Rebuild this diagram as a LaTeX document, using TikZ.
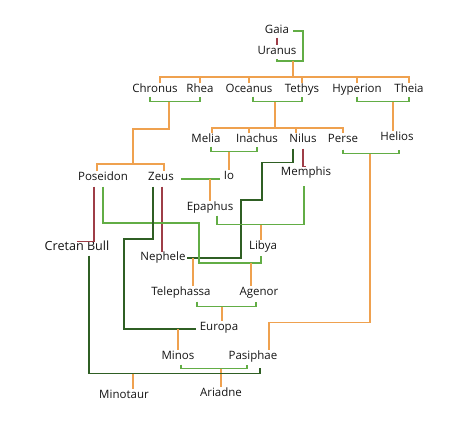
\documentclass[tikz,border=0pt]{standalone}
\usepackage{fontspec}
\setmainfont{Open Sans}
\usetikzlibrary{calc}

\definecolor{descorange}{HTML}{EFA14F}
\definecolor{wedgreen}{HTML}{62AD45}
\definecolor{affairgreen}{HTML}{2F5F24}
\definecolor{kinbrown}{HTML}{9E3D47}

\begin{document}
\begin{tikzpicture}[x=1pt, y=-1pt,
  person/.style={font=\fontsize{11.5}{13}\selectfont, text=black!92,
                 inner sep=1pt, text height=8.4pt, text depth=2.5pt},
  bigperson/.style={person, font=\fontsize{12.6}{14}\selectfont},
  desc/.style={draw=descorange, line width=1.1pt},
  wed/.style={draw=wedgreen, line width=1.1pt},
  affair/.style={draw=affairgreen, line width=1.1pt},
  kin/.style={draw=kinbrown, line width=1.1pt},
]
\useasboundingbox (0,0) rectangle (474,426);

% ============ PEOPLE ============
\node[person] (gaia) at (277,31) {Gaia};
\node[person] (uranus) at (277,52) {Uranus};

\node[person] (chronus) at (155,90) {Chronus};
\node[person] (rhea) at (200,90) {Rhea};
\node[person] (oceanus) at (249,90) {Oceanus};
\node[person] (tethys) at (302,90) {Tethys};
\node[person] (hyperion) at (357,90) {Hyperion};
\node[person] (theia) at (409,90) {Theia};

\node[person] (melia) at (206,140) {Melia};
\node[person] (inachus) at (257,140) {Inachus};
\node[person] (nilus) at (303,140) {Nilus};
\node[person] (perse) at (343,140) {Perse};
\node[person] (helios) at (397,138) {Helios};

\node[person] (poseidon) at (103,178) {Poseidon};
\node[person] (zeus) at (161,178) {Zeus};
\node[person] (io) at (229,177) {Io};
\node[person] (memphis) at (306,173) {Memphis};
\node[person] (epaphus) at (210,208) {Epaphus};

\node[bigperson] (cretan) at (77,248) {Cretan Bull};
\node[person] (nephele) at (163,258) {Nephele};
\node[person] (libya) at (263,247) {Libya};

\node[person] (telephassa) at (181,293) {Telephassa};
\node[person] (agenor) at (259,293) {Agenor};
\node[person] (europa) at (219,328) {Europa};
\node[person] (minos) at (178,357) {Minos};
\node[person] (pasiphae) at (253,357) {Pasiphae};
\node[person] (minotaur) at (124,396) {Minotaur};
\node[person] (ariadne) at (221,394) {Ariadne};

% ============ GAIA / URANUS ============
\draw[kin] (gaia) -- (uranus);
\draw[wed] ($(gaia.east)+(3,0)$) -| (303,61) -| (uranus.south);
\coordinate (gu) at (293,61);
\coordinate (row2) at (293,77);
\draw[desc] (gu) -- (row2);
\draw[desc] ($(chronus.north)+(5,0)$) |- (row2) -| (theia.north);
\foreach \n in {rhea,oceanus,tethys,hyperion}
  \draw[desc] (\n.north) -- (\n.north |- row2);

% ============ TITAN COUPLES ============
\draw[wed] ($(chronus.south)+(-5,0)$) -- ++(0,5) -| (rhea.south);
\draw[wed] ($(oceanus.south)+(4,0)$) -- ++(0,5) -| (tethys.south);
\draw[wed] (hyperion.south) -- ++(0,5) -| (theia.south);

% Chronus + Rhea -> Poseidon, Zeus
\coordinate (cr) at (169,101.5);
\coordinate (sib3) at (133,164);
\draw[desc] (cr) |- (133,129) -- (sib3);
\draw[desc] ($(poseidon.north)+(-6,0)$) |- (sib3) -| ($(zeus.north)+(3,0)$);

% Oceanus + Tethys -> Melia, Inachus, Nilus, Perse
\coordinate (ot) at (275,101.5);
\coordinate (sib4) at (275,128);
\draw[desc] (ot) -- (sib4);
\draw[desc] ($(melia.north)+(6,0)$) |- (sib4) -| (perse.north);
\draw[desc] ($(inachus.north)+(-8,0)$) |- (sib4);
\draw[desc] ($(nilus.north)+(-7,0)$) |- (sib4);

% Hyperion + Theia -> Helios
\coordinate (ht) at (393,101.5);
\draw[desc] (ht) -- (ht |- helios.north);

% ============ SECOND GENERATION ============
\draw[wed] ($(melia.south)+(5,0)$) -- ++(0,5) -| (inachus.south);
\coordinate (mi) at (229,151.5);
\draw[desc] (mi) -- (mi |- io.north);

\draw[kin] ($(nilus.south)+(0,2)$) |- (memphis.north);
\draw[affair] ($(nilus.south)+(-10,2)$) -- ++(0,14) -| (262,200) -- (241,200)
  |- (nephele.east);

\draw[wed] ($(perse.south)+(0,3)$) |- ($(helios.south)+(2,9)$)
  -- ($(helios.south)+(2,5)$);
\coordinate (ph) at (370,153.5);
\draw[desc] (ph) |- ($(pasiphae.north)+(16,-28)$) -- ($(pasiphae.north)+(16,0)$);

% Zeus + Io -> Epaphus
\draw[wed] ($(zeus.east)+(6,1)$) -- ($(io.west)+(-3,2)$);
\coordinate (zi) at (210,179);
\draw[desc] (zi) -- (epaphus.north);

\draw[kin] ($(poseidon.south)+(-9,2)$) |- (cretan.north);
\draw[kin] ($(zeus.south)+(1,2)$) |- (nephele.north);

% Poseidon + Libya -> Agenor
\draw[wed] ($(poseidon.south)+(0,2)$) |- (199,223) |- (261,263)
  -- ($(libya.south)+(-2,2)$);
\coordinate (pl) at (251,263);
\draw[desc] (pl) -- (pl |- agenor.north);

% Epaphus + Memphis -> Libya
\draw[wed] ($(epaphus.south)+(7,1)$) -- ++(0,9) -| ($(memphis.south)+(-2,6)$);
\coordinate (em) at (261,224.5);
\draw[desc] (em) -- (em |- libya.north);

% Zeus + Europa -> Minos
\draw[affair] ($(zeus.south)+(-8,2)$) |- (124,239) |- ($(europa.west)+(-3,1)$);
\coordinate (ze) at (178,329);
\draw[desc] (ze) -- (ze |- minos.north);

% Nilus + Nephele -> Telephassa
\coordinate (nn) at (193,258);
\draw[desc] (nn) -- (nn |- telephassa.north);

% Telephassa + Agenor -> Europa
\draw[wed] ($(telephassa.south)+(16,2)$) -- ++(0,5) -| ($(agenor.south)+(-3,2)$);
\coordinate (ta) at (222,306.5);
\draw[desc] (ta) -- (ta |- europa.north);

% ============ CRETE ============
\draw[wed] ($(minos.south)+(3,1)$) -- ++(0,4) -| ($(pasiphae.south)+(-6,1)$);
\coordinate (mp) at (221,368.5);
\draw[desc] (mp) -- (mp |- ariadne.north);

\draw[affair] ($(cretan.south)+(12,1)$) |- ($(pasiphae.south)+(7,10)$)
  -- ($(pasiphae.south)+(7,4)$);
\coordinate (cp) at (133,373.5);
\draw[desc] (cp) -- (cp |- minotaur.north);

\end{tikzpicture}
\end{document}
